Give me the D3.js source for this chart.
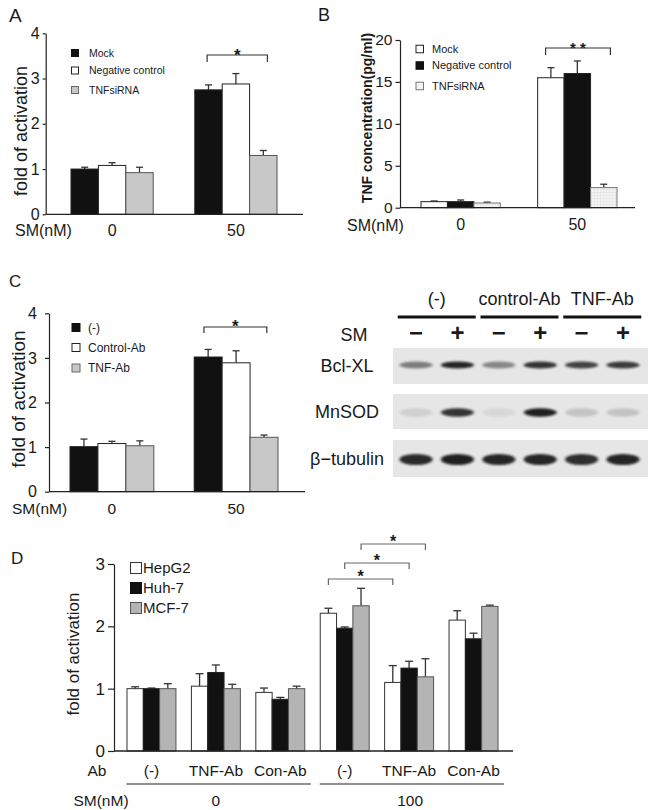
<!DOCTYPE html>
<html><head><meta charset="utf-8">
<script src="https://cdn.jsdelivr.net/npm/d3@7"></script>
<style>
body{margin:0;background:#fff}
svg{display:block}
text{font-family:"Liberation Sans",Arial,sans-serif;fill:#1a1a1a}
</style>
</head><body>
<svg id="fig" width="667" height="810"></svg>
<script>
// ---------------- DATA ----------------
// Panel A
const aGroups = ["0", "50"];
const aSeries = ["Mock", "Negative control", "TNFsiRNA"];
const aMeans = [[1.00, 1.08, 0.92], [2.75, 2.88, 1.30]];
const aErrs  = [[0.04, 0.06, 0.12], [0.11, 0.23, 0.11]];
const aTicks = [0, 1, 2, 3, 4];

// Panel B
const bGroups = ["0", "50"];
const bSeries = ["Mock", "Negative control", "TNFsiRNA"];
const bMeans = [[0.72, 0.72, 0.56], [15.5, 16.0, 2.4]];
const bErrs  = [[0.08, 0.20, 0.10], [1.2, 1.5, 0.4]];
const bTicks = [0, 5, 10, 15, 20];

// Panel C
const cGroups = ["0", "50"];
const cSeries = ["(-)", "Control-Ab", "TNF-Ab"];
const cMeans = [[1.01, 1.08, 1.03], [3.02, 2.89, 1.22]];
const cErrs  = [[0.17, 0.05, 0.11], [0.17, 0.27, 0.05]];
const cTicks = [0, 1, 2, 3, 4];

// Panel D
const dAb = ["(-)", "TNF-Ab", "Con-Ab", "(-)", "TNF-Ab", "Con-Ab"];
const dSM = ["0", "100"];
const dSeries = ["HepG2", "Huh-7", "MCF-7"];
const dHepG2    = [1.00, 1.04, 0.94, 2.21, 1.10, 2.10];
const dHepG2Err = [0.03, 0.20, 0.07, 0.08, 0.27, 0.15];
const dHuh7     = [1.00, 1.26, 0.83, 1.97, 1.33, 1.80];
const dHuh7Err  = [0.01, 0.12, 0.03, 0.02, 0.11, 0.09];
const dMCF7     = [1.00, 1.00, 1.00, 2.33, 1.19, 2.32];
const dMCF7Err  = [0.08, 0.07, 0.04, 0.28, 0.29, 0.02];
const dTicks = [0, 1, 2, 3];

// Western blot
const blotTreat = ["(-)", "control-Ab", "TNF-Ab"];
const blotLanes = ["−", "+", "−", "+", "−", "+"];
const blotRows = ["Bcl-XL", "MnSOD", "β−tubulin"];
const bandBclXL   = [0.50, 0.92, 0.45, 0.85, 0.78, 0.82];
const bandMnSOD   = [0.10, 0.85, 0.07, 0.95, 0.16, 0.16];
const bandTubulin = [0.90, 0.95, 0.92, 0.92, 0.88, 0.93];

// ---------------- DRAW ----------------
const svg = d3.select("#fig");
const defs = svg.append("defs");
const pat = defs.append("pattern").attr("id", "grid").attr("width", 3).attr("height", 3)
  .attr("patternUnits", "userSpaceOnUse");
pat.append("rect").attr("width", 3).attr("height", 3).attr("fill", "#f3f3f3");
pat.append("path").attr("d", "M0 0H3M0 0V3").attr("stroke", "#d4d4d4").attr("stroke-width", 0.6);
const blur = defs.append("filter").attr("id", "blur").attr("x", "-30%").attr("y", "-100%")
  .attr("width", "160%").attr("height", "300%");
blur.append("feGaussianBlur").attr("stdDeviation", "1.6 1.3");

const AX = "#222";

function barPanel(o) {
  const g = svg.append("g");
  const y = d3.scaleLinear().domain(o.yDomain).range(o.yRange);
  const x0 = d3.scaleBand().domain(d3.range(o.means.length)).range(o.xRange).paddingInner(o.padIn);
  const x1 = d3.scaleBand().domain(d3.range(o.series.length)).range([0, x0.bandwidth()]);
  const bw = x1.bandwidth();
  o.means.forEach((row, gi) => {
    row.forEach((v, si) => {
      const bx = x0(gi) + x1(si);
      const e = o.errs[gi][si];
      const cx = bx + bw / 2;
      g.append("line").attr("x1", cx).attr("x2", cx).attr("y1", y(v)).attr("y2", y(v + e))
        .attr("stroke", "#333").attr("stroke-width", 1.3);
      g.append("line").attr("x1", cx - o.cap).attr("x2", cx + o.cap).attr("y1", y(v + e)).attr("y2", y(v + e))
        .attr("stroke", "#333").attr("stroke-width", 1.3);
      g.append("rect").attr("x", bx).attr("y", y(v)).attr("width", bw).attr("height", y(0) - y(v))
        .attr("fill", o.fills[si]).attr("stroke", o.strokes[si]).attr("stroke-width", 1);
    });
  });
  const axis = d3.axisLeft(y).tickValues(o.ticks).tickSize(o.tickSize).tickPadding(o.tickPad)
    .tickSizeOuter(0).tickFormat(d3.format("d"));
  const ag = g.append("g").attr("transform", `translate(${o.axisX},0)`).call(axis);
  ag.select(".domain").attr("stroke", AX).attr("stroke-width", 1.2);
  ag.selectAll(".tick line").attr("stroke", AX).attr("stroke-width", 1.2);
  ag.selectAll(".tick text").attr("font-size", o.tickFs).attr("font-family", '"Liberation Sans",Arial,sans-serif')
    .attr("fill", "#1a1a1a");
  g.append("line").attr("x1", o.axisX).attr("x2", o.xEnd).attr("y1", y(0)).attr("y2", y(0))
    .attr("stroke", AX).attr("stroke-width", 1.3);
  g.append("text").attr("transform", `translate(${o.yLabel.x},${o.yLabel.y}) rotate(-90)`)
    .attr("text-anchor", "middle").attr("dy", "0.35em").attr("font-size", o.yLabel.fs)
    .attr("font-weight", o.yLabel.bold ? "bold" : "normal").text(o.yLabel.text);
  return { g, y, x0, x1, bw };
}

function legend(g, items, x, ys, size, textX, fs, fills, strokes) {
  items.forEach((t, i) => {
    g.append("rect").attr("x", x).attr("y", ys[i] - size / 2).attr("width", size).attr("height", size)
      .attr("fill", fills[i]).attr("stroke", strokes[i]).attr("stroke-width", 1);
    g.append("text").attr("x", textX).attr("y", ys[i]).attr("dy", "0.36em").attr("font-size", fs).text(t);
  });
}

function bracket(g, xa, xb, yTop, yBot, label, starBase, fs, color) {
  g.append("path").attr("d", `M${xa},${yBot}V${yTop}H${xb}V${yBot}`).attr("fill", "none")
    .attr("stroke", color).attr("stroke-width", 1.2);
  g.append("text").attr("x", (xa + xb) / 2).attr("y", starBase).attr("text-anchor", "middle")
    .attr("font-size", fs).attr("font-weight", "bold").attr("fill", color === "#333" ? "#222" : "#444")
    .text(label);
}

function catLabels(g, x0, bwGroup, groups, yb, fs) {
  groups.forEach((t, i) => {
    g.append("text").attr("x", x0(i) + bwGroup / 2).attr("y", yb).attr("text-anchor", "middle")
      .attr("font-size", fs).text(t);
  });
}

// ---------- Panel A ----------
const A = barPanel({
  means: aMeans, errs: aErrs, series: aSeries,
  yDomain: [0, 4], yRange: [214.3, 33.3], xRange: [71, 277], padIn: 0.336,
  fills: ["#111", "#fff", "#c8c8c8"], strokes: ["#222", "#222", "#555"], cap: 3.5,
  ticks: aTicks, tickSize: 3, tickPad: 3, tickFs: 16, axisX: 45.7, xEnd: 303,
  yLabel: { x: 21, y: 131, fs: 18, text: "fold of activation" }
});
legend(A.g, aSeries, 71.5, [53, 70.5, 90], 7, 89, 10.5, ["#111", "#fff", "#c8c8c8"], ["#111", "#222", "#666"]);
catLabels(A.g, A.x0, A.x0.bandwidth(), aGroups, 236, 16);
A.g.append("text").attr("x", 15).attr("y", 236).attr("font-size", 16).text("SM(nM)");
bracket(A.g, A.x0(1) + A.x1(0) + A.bw * 0.45, A.x0(1) + A.x1(2) + A.bw * 0.65, 55, 62, "*", 61, 17, "#333");
A.g.append("text").attr("x", 9).attr("y", 22).attr("font-size", 19).text("A");

// ---------- Panel B ----------
const B = barPanel({
  means: bMeans, errs: bErrs, series: bSeries,
  yDomain: [0, 20], yRange: [207.7, 40], xRange: [421, 617], padIn: 0.32,
  fills: ["#fff", "#111", "url(#grid)"], strokes: ["#222", "#222", "#777"], cap: 3.5,
  ticks: bTicks, tickSize: 4.5, tickPad: 3, tickFs: 15.5, axisX: 400, xEnd: 635,
  yLabel: { x: 367, y: 118, fs: 14, bold: true, text: "TNF concentration(pg/ml)" }
});
legend(B.g, bSeries, 416, [49, 65.5, 86], 7.5, 432, 11, ["#fff", "#111", "#f5f5f5"], ["#222", "#111", "#777"]);
catLabels(B.g, B.x0, B.x0.bandwidth(), bGroups, 230, 16);
B.g.append("text").attr("x", 347).attr("y", 231).attr("font-size", 16).text("SM(nM)");
bracket(B.g, B.x0(1) + B.x1(0) + B.bw * 0.3, B.x0(1) + B.x1(2) + B.bw * 0.75, 48, 55, "* *", 53, 15, "#333");
B.g.append("text").attr("x", 318).attr("y", 21).attr("font-size", 18).text("B");

// ---------- Panel C ----------
const C = barPanel({
  means: cMeans, errs: cErrs, series: cSeries,
  yDomain: [0, 4], yRange: [491.7, 313.3], xRange: [70, 278], padIn: 0.325,
  fills: ["#111", "#fff", "#c8c8c8"], strokes: ["#222", "#222", "#555"], cap: 3.5,
  ticks: cTicks, tickSize: 4, tickPad: 8, tickFs: 16, axisX: 49, xEnd: 305,
  yLabel: { x: 18, y: 399, fs: 19, text: "fold of activation" }
});
legend(C.g, cSeries, 72, [327.5, 347.5, 368], 8, 88, 12, ["#111", "#fff", "#c8c8c8"], ["#111", "#222", "#666"]);
catLabels(C.g, C.x0, C.x0.bandwidth(), cGroups, 514, 15.5);
C.g.append("text").attr("x", 12).attr("y", 514).attr("font-size", 15.5).text("SM(nM)");
bracket(C.g, C.x0(1) + C.x1(0) + C.bw * 0.35, C.x0(1) + C.x1(2) + C.bw * 0.6, 327, 333, "*", 332, 17, "#333");
C.g.append("text").attr("x", 9).attr("y", 287).attr("font-size", 17).text("C");

// ---------- Panel D ----------
const dMeans = dAb.map((_, i) => [dHepG2[i], dHuh7[i], dMCF7[i]]);
const dErrs = dAb.map((_, i) => [dHepG2Err[i], dHuh7Err[i], dMCF7Err[i]]);
const D = barPanel({
  means: dMeans, errs: dErrs, series: dSeries,
  yDomain: [0, 3], yRange: [751, 564], xRange: [127, 498], padIn: 0.24,
  fills: ["#fff", "#111", "#b4b4b4"], strokes: ["#333", "#222", "#555"], cap: 4,
  ticks: dTicks, tickSize: 6, tickPad: 3, tickFs: 17, axisX: 114, xEnd: 513,
  yLabel: { x: 73, y: 654, fs: 17, text: "fold of activation" }
});
legend(D.g, dSeries, 130.5, [568, 588, 608], 11, 143, 15, ["#fff", "#111", "#b4b4b4"], ["#333", "#111", "#555"]);
catLabels(D.g, D.x0, D.x0.bandwidth(), dAb, 776, 15.5);
D.g.append("text").attr("x", 97).attr("y", 776).attr("text-anchor", "middle").attr("font-size", 15.5).text("Ab");
[[0, 2], [3, 5]].forEach(([s, e], k) => {
  const xa = D.x0(s) - 0.5, xb = D.x0(e) + D.x0.bandwidth() + 6;
  D.g.append("line").attr("x1", xa).attr("x2", xb).attr("y1", 784).attr("y2", 784)
    .attr("stroke", "#222").attr("stroke-width", 1.2);
  D.g.append("text").attr("x", (D.x0(s) + D.x0(e) + D.x0.bandwidth()) / 2 + (k ? 1 : 0)).attr("y", 806)
    .attr("text-anchor", "middle").attr("font-size", 15.5).text(dSM[k]);
});
D.g.append("text").attr("x", 101).attr("y", 806).attr("text-anchor", "middle").attr("font-size", 15.5).text("SM(nM)");
const dc = (gi, si) => D.x0(gi) + D.x1(si) + D.bw / 2;
bracket(D.g, dc(3, 0), dc(4, 0), 579, 585, "*", 582, 16, "#666");
bracket(D.g, dc(3, 1), dc(4, 1), 563, 569, "*", 566, 16, "#666");
bracket(D.g, dc(3, 2), dc(4, 2), 544, 550, "*", 547, 16, "#666");
D.g.append("text").attr("x", 11).attr("y", 564).attr("font-size", 17).text("D");

// ---------- Western blot ----------
const W = svg.append("g");
const lane = d3.scalePoint().domain(d3.range(blotLanes.length)).range([416, 623]);
const boxes = [[348, 384], [394, 429], [440, 477]];
const bandRy = [3.6, 4.2, 5.6];
const bandData = [bandBclXL, bandMnSOD, bandTubulin];
blotTreat.forEach((t, k) => {
  const mid = (lane(2 * k) + lane(2 * k + 1)) / 2;
  W.append("text").attr("x", mid).attr("y", 305).attr("text-anchor", "middle").attr("font-size", 18).text(t);
  W.append("line").attr("x1", mid - 39).attr("x2", mid + 39).attr("y1", 317).attr("y2", 317)
    .attr("stroke", "#111").attr("stroke-width", 2.8);
});
W.append("text").attr("x", 354).attr("y", 341).attr("text-anchor", "middle").attr("font-size", 18).text("SM");
blotLanes.forEach((s, i) => {
  W.append("text").attr("x", lane(i)).attr("y", 341).attr("text-anchor", "middle")
    .attr("font-size", 24).attr("font-weight", "bold").attr("fill", "#111").text(s);
});
blotRows.forEach((r, ri) => {
  const [t, b] = boxes[ri];
  W.append("rect").attr("x", 393).attr("y", t).attr("width", 255).attr("height", b - t).attr("fill", "#e6e6e6");
  const cy = (t + b) / 2;
  W.append("text").attr("x", 347).attr("y", cy).attr("dy", "0.36em").attr("text-anchor", "middle")
    .attr("font-size", 18).text(r);
  bandData[ri].forEach((v, i) => {
    W.append("ellipse").attr("cx", lane(i)).attr("cy", cy + (ri === 0 ? -1 : 1)).attr("rx", 16.5).attr("ry", bandRy[ri])
      .attr("fill", "#141414").attr("opacity", v).attr("filter", "url(#blur)");
  });
});
</script>
</body></html>
